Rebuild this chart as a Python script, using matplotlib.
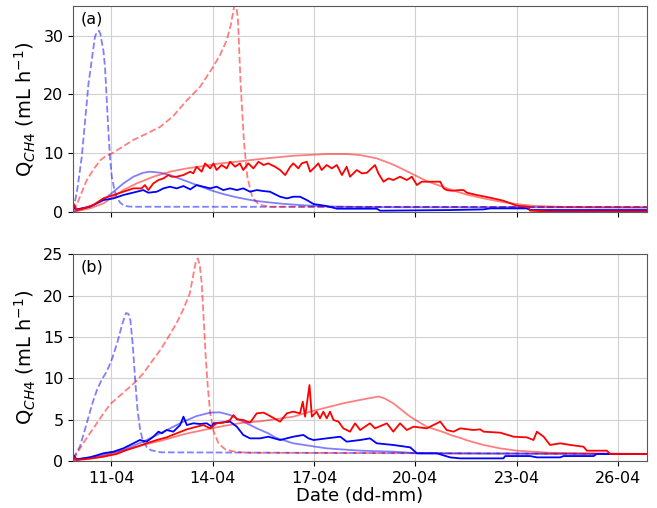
from datetime import datetime, timedelta
import matplotlib.pyplot as plt
import matplotlib.dates as mdates

# time axis: days since 09-04 21:00
start = datetime(2021, 4, 9, 21, 0)
span = 16.97

# ---------------- panel (a) ----------------
a_blue_dash_t = [0.0, 0.12, 0.25, 0.45, 0.64, 0.70, 0.76, 0.80, 0.84, 0.89, 0.94, 0.99, 1.04, 1.09, 1.14, 1.21,
                 1.28, 1.38, 1.48, 1.62, 1.78, 16.97]
a_blue_dash_v = [0.3, 4.0, 9.4, 21.9, 29.8, 30.6, 30.8, 30.3, 29.0, 27.5, 24.5, 19.0, 13.5, 9.0, 6.0, 4.0,
                 2.6, 1.7, 1.2, 1.0, 0.95, 0.9]

a_red_dash_t = [0.0, 0.1, 0.2, 0.4, 0.6, 0.79, 0.95, 1.14, 1.45, 1.78, 2.15, 2.57, 2.95, 3.36, 3.75, 4.14, 4.35,
                4.54, 4.66, 4.74, 4.80, 4.87, 4.95, 5.05, 5.15, 5.30, 5.50, 5.80, 16.97]
a_red_dash_v = [0.2, 1.3, 2.7, 5.5, 7.3, 8.8, 9.5, 10.0, 11.1, 12.3, 13.3, 14.5, 16.3, 19.0, 21.3, 24.7, 26.8,
                29.2, 31.8, 34.3, 36.0, 33.0, 22.0, 12.0, 6.0, 2.5, 1.3, 0.95, 0.9]

a_blue_mod_t = [0.0, 0.49, 0.89, 1.19, 1.48, 1.78, 2.07, 2.27, 2.57, 2.86, 3.26, 3.65, 4.05, 4.44, 4.84, 5.33,
                5.77, 6.2, 6.8, 7.5, 8.5, 10.0, 16.97]
a_blue_mod_v = [0.1, 0.96, 2.09, 3.5, 4.9, 6.05, 6.72, 6.9, 6.72, 6.33, 5.48, 4.63, 3.78, 3.1, 2.54, 2.0,
                1.7, 1.45, 1.2, 1.0, 0.9, 0.87, 0.85]

a_red_mod_t = [0.0, 0.49, 0.89, 1.19, 1.48, 1.88, 2.37, 2.86, 3.36, 3.85, 4.34, 4.84, 5.6, 6.51, 7.5, 8.09,
               8.49, 8.98, 9.47, 9.97, 10.46, 10.95, 11.3, 11.65, 12.15, 12.65, 13.13, 13.62, 14.6, 16.97]
a_red_mod_v = [0.1, 0.67, 1.52, 2.65, 3.78, 4.92, 6.05, 6.9, 7.46, 7.85, 8.3, 8.6, 9.1, 9.6, 9.89, 9.89,
               9.72, 9.16, 8.1, 6.7, 5.3, 4.3, 3.6, 3.0, 2.35, 1.8, 1.4, 1.1, 0.9, 0.8]

a_blue_meas_t = [0.0, 0.1, 0.49, 0.89, 1.19, 1.48, 1.88, 2.07, 2.22, 2.47, 2.67, 2.86, 3.06, 3.26, 3.46, 3.65,
                 3.85, 4.05, 4.24, 4.44, 4.64, 4.84, 5.03, 5.23, 5.43, 5.63, 5.82, 6.12, 6.32, 6.51, 6.71,
                 6.91, 7.11, 7.5, 7.8, 8.98, 9.08, 11.15, 12.14, 12.34, 13.42, 13.52, 16.97]
a_blue_meas_v = [0.96, 0.5, 0.96, 2.09, 2.37, 2.94, 3.5, 3.78, 3.33, 3.5, 4.07, 4.35, 4.07, 4.46, 3.9, 4.63,
                 4.35, 4.07, 4.35, 3.78, 4.07, 3.78, 4.07, 3.5, 3.78, 3.61, 3.5, 2.65, 2.37, 2.65, 2.65,
                 2.09, 1.41, 1.07, 0.62, 0.62, 0.28, 0.39, 0.5, 0.67, 0.67, 0.39, 0.39]

a_red_meas_t = [0.0, 0.1, 0.3, 0.59, 0.89, 1.19, 1.48, 1.78, 2.02, 2.12, 2.22, 2.37, 2.52, 2.67, 2.81, 2.91,
                3.06, 3.26, 3.46, 3.55, 3.65, 3.8, 3.9, 4.05, 4.15, 4.24, 4.39, 4.54, 4.64, 4.79, 4.93,
                5.03, 5.18, 5.33, 5.48, 5.63, 5.77, 5.97, 6.12, 6.27, 6.42, 6.51, 6.66, 6.76, 6.91, 7.01,
                7.16, 7.25, 7.35, 7.5, 7.65, 7.8, 7.95, 8.09, 8.19, 8.39, 8.54, 8.69, 8.93, 9.03, 9.18,
                9.33, 9.47, 9.67, 9.87, 10.02, 10.17, 10.31, 10.86, 10.96, 11.05, 11.2, 11.45, 11.55,
                11.65, 11.94, 12.34, 12.73, 13.13, 13.47, 13.52, 14.11, 16.97]
a_red_meas_v = [1.52, 0.39, 0.67, 1.24, 2.37, 2.94, 3.5, 4.07, 4.07, 4.63, 3.78, 4.92, 5.48, 5.76, 6.33, 6.05,
                6.05, 6.33, 6.9, 6.61, 7.74, 6.9, 8.31, 7.46, 8.31, 7.18, 8.03, 7.46, 8.59, 7.74, 8.31,
                7.18, 8.31, 7.46, 8.59, 8.03, 8.31, 7.74, 7.18, 6.33, 7.74, 8.31, 7.46, 8.31, 8.59, 6.9,
                7.74, 8.31, 7.18, 8.03, 7.46, 8.03, 6.33, 7.74, 6.05, 7.18, 6.61, 6.72, 8.03, 6.61, 5.2,
                5.76, 5.48, 6.05, 5.48, 6.05, 4.63, 5.2, 5.2, 4.07, 3.78, 3.67, 3.78, 3.78,
                3.33, 2.94, 2.48, 1.97, 1.12, 0.96, 0.28, 0.15, 0.15]

# ---------------- panel (b) ----------------
b_blue_dash_t = [0.0, 0.2, 0.4, 0.55, 0.7, 0.85, 1.0, 1.15, 1.3, 1.45, 1.56, 1.63, 1.69, 1.76, 1.83, 1.9, 1.97,
                 2.05, 2.17, 2.3, 2.6, 16.97]
b_blue_dash_v = [0.3, 1.8, 4.6, 6.8, 8.6, 9.9, 10.9, 12.4, 14.3, 16.6, 17.9, 17.8, 17.0, 14.0, 9.8, 6.2, 4.0,
                 2.5, 1.7, 1.3, 1.05, 0.85]

b_red_dash_t = [0.0, 0.15, 0.3, 0.5, 0.7, 0.9, 1.1, 1.35, 1.6, 1.85, 2.07, 2.3, 2.57, 2.8, 3.06, 3.25, 3.45,
                3.55, 3.63, 3.68, 3.74, 3.8, 3.86, 3.92, 3.98, 4.05, 4.15, 4.3, 4.5, 4.8, 5.2, 16.97]
b_red_dash_v = [0.2, 1.2, 2.2, 3.4, 4.6, 5.8, 6.9, 7.8, 8.7, 9.6, 10.6, 11.9, 13.4, 14.9, 16.7, 18.3, 20.3,
                22.5, 24.2, 24.5, 23.8, 21.5, 17.0, 12.5, 9.0, 5.8, 3.6, 2.1, 1.4, 1.1, 1.0, 0.85]

b_blue_mod_t = [0.0, 0.89, 1.48, 2.07, 2.67, 3.26, 3.65, 4.05, 4.34, 4.64, 5.03, 5.43, 5.77, 6.0, 6.51, 7.5,
                8.49, 9.47, 10.26, 16.97]
b_blue_mod_v = [0.12, 0.73, 1.33, 2.34, 3.55, 4.76, 5.44, 5.85, 5.89, 5.56, 4.76, 3.95, 3.35, 2.8, 2.14, 1.53,
                1.25, 1.13, 0.93, 0.85]

b_red_mod_t = [0.0, 0.89, 1.48, 2.07, 2.67, 3.26, 3.85, 4.44, 5.03, 5.53, 6.51, 7.01, 7.99, 8.5, 9.03, 9.2,
               9.47, 9.97, 10.46, 10.95, 11.2, 11.45, 11.65, 12.14, 12.63, 13.13, 14.11, 15.1, 16.97]
b_red_mod_v = [0.12, 0.6, 1.25, 1.94, 2.54, 3.23, 3.75, 4.23, 4.64, 4.8, 5.36, 5.97, 6.98, 7.4, 7.8, 7.6,
               6.98, 5.36, 4.15, 3.5, 3.1, 2.8, 2.5, 1.94, 1.53, 1.25, 1.0, 0.93, 0.85]

b_blue_meas_t = [0.0, 0.1, 0.49, 0.89, 1.19, 1.48, 1.78, 1.97, 2.17, 2.37, 2.52, 2.62, 2.76, 2.96, 3.16, 3.26,
                 3.36, 3.55, 3.75, 3.95, 4.1, 4.15, 4.34, 4.64, 4.84, 5.03, 5.23, 5.53, 5.77, 6.12, 6.51,
                 6.81, 6.96, 7.11, 7.5, 7.9, 8.09, 8.49, 8.78, 8.98, 9.47, 9.97, 10.17, 10.76, 11.15,
                 11.45, 12.73, 12.78, 13.52, 13.72, 14.41, 14.51, 15.4, 15.49, 16.97]
b_blue_meas_v = [0.73, 0.2, 0.44, 0.93, 1.13, 1.53, 2.14, 2.54, 2.34, 2.94, 3.55, 3.35, 3.75, 3.55, 4.35, 5.36,
                 4.35, 4.56, 4.48, 4.56, 4.15, 4.56, 4.64, 4.76, 4.15, 3.15, 2.74, 2.74, 2.94, 2.54, 2.94,
                 3.15, 2.74, 2.54, 2.74, 2.94, 2.34, 2.54, 2.74, 2.14, 1.94, 1.65, 0.93, 0.93, 0.44,
                 0.32, 0.32, 0.6, 0.6, 0.44, 0.44, 0.6, 0.6, 0.85, 0.85]

b_red_meas_t = [0.0, 0.1, 0.49, 0.89, 1.28, 1.58, 1.88, 2.17, 2.47, 2.76, 3.06, 3.36, 3.65, 3.85, 4.05, 4.24,
                4.44, 4.64, 4.74, 4.84, 5.03, 5.23, 5.43, 5.63, 5.77, 6.12, 6.32, 6.51, 6.71, 6.79, 6.86,
                6.99, 7.06, 7.2, 7.3, 7.4, 7.5, 7.6, 7.7, 7.85, 7.99, 8.19, 8.34, 8.49, 8.78, 8.93,
                9.28, 9.47, 9.67, 9.87, 10.07, 10.46, 10.86, 11.05, 11.25, 11.45, 11.84, 12.04, 12.14,
                12.63, 13.03, 13.42, 13.62, 13.72, 13.92, 14.11, 14.41, 14.71, 15.1, 15.2, 15.79,
                15.89, 16.97]
b_red_meas_v = [0.52, 0.12, 0.28, 0.52, 0.85, 1.33, 1.73, 2.14, 2.54, 2.86, 3.35, 3.83, 4.15, 4.35, 3.95, 4.56,
                4.64, 4.96, 5.56, 5.04, 4.96, 4.64, 5.77, 5.85, 5.56, 4.76, 5.77, 5.97, 5.77, 7.18, 5.36,
                9.19, 5.36, 5.97, 5.16, 5.97, 5.16, 5.97, 4.96, 4.76, 3.95, 3.55, 4.56, 3.75, 4.56, 3.95,
                4.56, 3.55, 4.56, 3.75, 4.15, 3.95, 4.76, 3.75, 3.55, 3.95, 3.75, 3.83, 3.55,
                3.43, 2.94, 2.86, 2.54, 3.55, 2.94, 1.94, 2.14, 1.94, 1.73, 1.25, 1.25,
                0.85, 0.85]


def to_dates(t):
    return [start + timedelta(days=d) for d in t]


def paint_panel(ax, blue_dash, red_dash, blue_mod, red_mod, blue_meas, red_meas, tag, ymax, yticks):
    lw = 1.3
    ax.plot(to_dates(blue_dash[0]), blue_dash[1], color='blue', alpha=0.5, ls='--', lw=lw)
    ax.plot(to_dates(red_dash[0]), red_dash[1], color='red', alpha=0.5, ls='--', lw=lw)
    ax.plot(to_dates(blue_mod[0]), blue_mod[1], color='blue', alpha=0.5, lw=lw)
    ax.plot(to_dates(red_mod[0]), red_mod[1], color='red', alpha=0.5, lw=lw)
    ax.plot(to_dates(blue_meas[0]), blue_meas[1], color='blue', lw=lw)
    ax.plot(to_dates(red_meas[0]), red_meas[1], color='red', lw=lw)
    ax.set_xlim(start, start + timedelta(days=span))
    ax.set_ylim(0, ymax)
    ax.set_yticks(yticks)
    ax.xaxis.set_major_locator(mdates.DayLocator(bymonthday=[11, 14, 17, 20, 23, 26]))
    ax.xaxis.set_major_formatter(mdates.DateFormatter('%d-%m'))
    ax.grid(True, color='0.82', lw=0.8)
    ax.tick_params(labelsize=11.5)
    for sp in ax.spines.values():
        sp.set_color('0.35')
    ax.set_ylabel('Q$_{CH4}$ (mL h$^{-1}$)', fontsize=14)
    ax.text(0.012, 0.975, tag, transform=ax.transAxes, fontsize=11.5, va='top', ha='left')


fig = plt.figure(figsize=(6.57, 5.08), dpi=100)
ax1 = fig.add_axes([0.1116, 0.582, 0.8727, 0.406])
ax2 = fig.add_axes([0.1116, 0.0925, 0.8727, 0.4069])

paint_panel(ax1, (a_blue_dash_t, a_blue_dash_v), (a_red_dash_t, a_red_dash_v),
            (a_blue_mod_t, a_blue_mod_v), (a_red_mod_t, a_red_mod_v),
            (a_blue_meas_t, a_blue_meas_v), (a_red_meas_t, a_red_meas_v), '(a)', 35, [0, 10, 20, 30])
paint_panel(ax2, (b_blue_dash_t, b_blue_dash_v), (b_red_dash_t, b_red_dash_v),
            (b_blue_mod_t, b_blue_mod_v), (b_red_mod_t, b_red_mod_v),
            (b_blue_meas_t, b_blue_meas_v), (b_red_meas_t, b_red_meas_v), '(b)', 25, [0, 5, 10, 15, 20, 25])
ax1.tick_params(labelbottom=False)
ax2.set_xlabel('Date (dd-mm)', fontsize=13, labelpad=1)

fig.savefig('out.png', dpi=100)
